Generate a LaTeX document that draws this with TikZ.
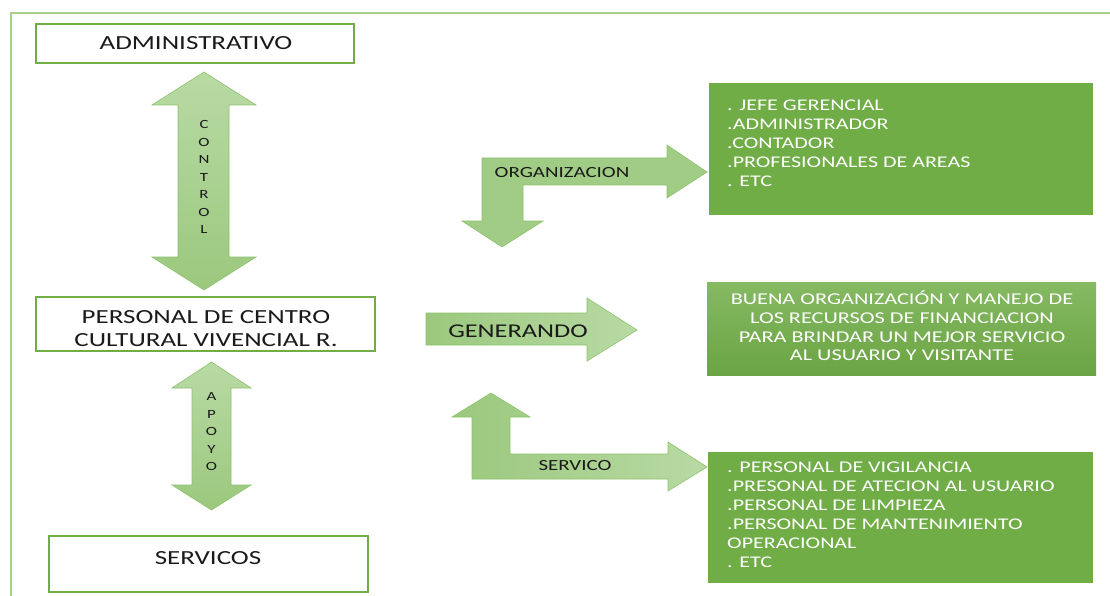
\documentclass[tikz,border=0pt]{standalone}
\usepackage{fontspec}
\setmainfont{Carlito}[FakeStretch=1.35]
\usepackage{tikz}
\usetikzlibrary{positioning}
\definecolor{boxgreen}{HTML}{70AD47}
\definecolor{framegreen}{HTML}{A9D18E}
\definecolor{arrowline}{HTML}{8CC26C}
\definecolor{arrowlight}{HTML}{B8DAA4}
\definecolor{arrowdark}{HTML}{9BC87D}
\definecolor{txt}{HTML}{1A1A1A}

\begin{document}
\begin{tikzpicture}[x=1pt, y=-1pt,
    every node/.style={inner sep=0pt, text=txt},
    frameline/.style={draw=framegreen, line width=1.6pt},
    whitebox/.style={draw=boxgreen, line width=1.6pt, fill=white},
    greenbox/.style={fill=boxgreen},
    blockarrow/.style={draw=arrowline, line width=0.6pt, line join=miter},
    vshade/.style={blockarrow, top color=arrowlight, bottom color=arrowdark},
    hshade/.style={blockarrow, left color=arrowdark, right color=arrowlight},
    boxtext/.style={font=\fontsize{20}{23}\selectfont, align=center},
    letters/.style={font=\fontsize{12.5}{17.5}\selectfont, align=center},
    armlabel/.style={font=\fontsize{15.5}{18}\selectfont},
    listtext/.style={font=\fontsize{16.3}{19}\selectfont, text=white, align=left}
  ]
  \useasboundingbox (0,0) rectangle (1110,596);

  % ---------- cadre ----------
  \draw[frameline] (11,596) -- (11,13) -- (1110,13);

  % ---------- colonne gauche ----------
  \draw[whitebox] (36,24) rectangle (354,63);
  \node[boxtext] (admin) at (196,43) {ADMINISTRATIVO};

  \draw[whitebox] (36,297) rectangle (375,351);
  \node[boxtext] (personal) at (206,329) {PERSONAL DE CENTRO\\CULTURAL VIVENCIAL R.};

  \draw[whitebox] (49,536) rectangle (368,592);
  \node[boxtext] (servicos) at (208,558) {SERVICOS};

  % control (double fleche verticale)
  \draw[vshade] (204,72) -- (256,105) -- (229,105) -- (229,257) -- (256,257)
    -- (204,290) -- (152,257) -- (178,257) -- (178,105) -- (152,105) -- cycle;
  \node[letters] (control) at (204,177) {C\\O\\N\\T\\R\\O\\L};

  % apoyo
  \draw[vshade] (211.5,362) -- (251,388) -- (231,388) -- (231,485) -- (251,485)
    -- (211.5,510) -- (172,485) -- (192,485) -- (192,388) -- (172,388) -- cycle;
  \node[letters] (apoyo) at (211.5,432) {A\\P\\O\\Y\\O};

  % ---------- fleches du milieu ----------
  % organizacion
  \draw[blockarrow, fill=arrowdark!80!arrowlight]
    (482,221) -- (482,158) -- (667,158) -- (667,145) -- (707,172) -- (667,198)
    -- (667,185) -- (523,185) -- (523,221) -- (543,221) -- (502,247) -- (462,221) -- cycle;
  \node[armlabel] (organiz) at (562,173) {ORGANIZACION};

  % generando
  \draw[hshade] (426,313) -- (587,313) -- (587,298) -- (637,330) -- (587,361)
    -- (587,345) -- (426,345) -- cycle;
  \node[boxtext, font=\fontsize{19.5}{22}\selectfont] (generando) at (518,331) {GENERANDO};

  % servico
  \draw[hshade] (472,417) -- (452,417) -- (491,393) -- (530,417) -- (510,417)
    -- (510,454) -- (668,454) -- (668,442) -- (707,467) -- (668,491) -- (668,479)
    -- (472,479) -- cycle;
  \node[armlabel] (servico) at (575,466) {SERVICO};

  % ---------- cadres verts ----------
  \fill[greenbox] (709,83) rectangle (1093,215);
  \node[listtext, anchor=north west] (organlist) at (727,100)
    {. JEFE GERENCIAL\\.ADMINISTRADOR\\.CONTADOR\\.PROFESIONALES DE AREAS\\. ETC};

  \fill[top color=boxgreen!85!white, bottom color=boxgreen!95!black] (707,282) rectangle (1096,375);
  \node[listtext, align=center, font=\fontsize{16.5}{18.7}\selectfont] (resultado) at (902,326)
    {BUENA ORGANIZACIÓN Y MANEJO DE\\LOS RECURSOS DE FINANCIACION\\PARA BRINDAR UN MEJOR SERVICIO\\AL USUARIO Y VISITANTE};

  \fill[greenbox] (708,452) rectangle (1093,583);
  \node[listtext, anchor=north west] (servlist) at (727,462)
    {. PERSONAL DE VIGILANCIA\\.PRESONAL DE ATECION AL USUARIO\\.PERSONAL DE LIMPIEZA\\.PERSONAL DE MANTENIMIENTO\\OPERACIONAL\\. ETC};
\end{tikzpicture}
\end{document}
